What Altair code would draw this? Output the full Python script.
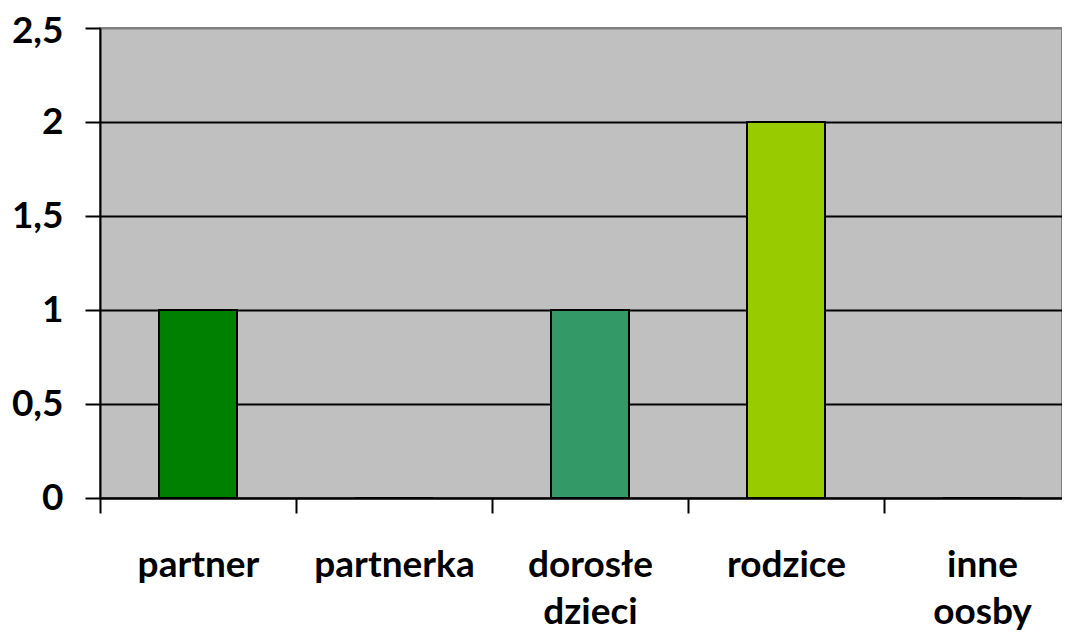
import altair as alt
import pandas as pd

categories = ["partner", "partnerka", "dorosłe dzieci", "rodzice", "inne oosby"]
values = [1, 0, 1, 2, 0]
colors = ["#008000", "#008000", "#339966", "#99CC00", "#99CC00"]
y_ticks = [0, 0.5, 1, 1.5, 2, 2.5]

df = pd.DataFrame({"kat": categories, "val": values})

FONT = "Lato"

chart = alt.Chart(df).mark_bar(
    size=78, stroke="black", strokeWidth=2
).encode(
    x=alt.X(
        "kat:N",
        sort=categories,
        scale=alt.Scale(paddingInner=0, paddingOuter=0, range=[0, 980]),
        axis=alt.Axis(
            title=None,
            labelAngle=0,
            labelFont=FONT,
            labelFontWeight="bold",
            labelFontSize=37,
            labelColor="black",
            labelExpr="split(datum.label, ' ')",
            labelLineHeight=47,
            labelPadding=34,
            labelBaseline="top",
            tickBand="extent",
            tickSize=15,
            tickWidth=2,
            tickColor="black",
            domainColor="black",
            domainWidth=2,
            grid=False,
        ),
    ),
    y=alt.Y(
        "val:Q",
        scale=alt.Scale(domain=[0, 2.5], nice=False),
        axis=alt.Axis(
            title=None,
            values=y_ticks,
            labelExpr="replace(format(datum.value, ''), '.', ',')",
            labelFont=FONT,
            labelFontWeight="bold",
            labelFontSize=37,
            labelColor="black",
            labelPadding=22,
            labelOffset={"condition": {"test": "datum.value >= 2.5", "value": 3}, "value": 0},
            tickSize=15,
            tickWidth=2,
            tickColor="black",
            domainColor="black",
            domainWidth=2,
            grid=True,
            gridColor={"condition": {"test": "datum.value >= 2.5", "value": "#808080"}, "value": "black"},
            gridWidth=2,
        ),
    ),
    color=alt.Color(
        "kat:N",
        scale=alt.Scale(domain=categories, range=colors),
        legend=None,
    ),
).properties(
    width=962,
    height=470,
    autosize=alt.AutoSizeParams(type="none"),
    padding={"left": 92, "top": 20, "right": 0, "bottom": 134},
).configure_view(
    fill="#C0C0C0",
    stroke="#808080",
    strokeWidth=2,
)

chart.save("out.html", embed_options={"renderer": "svg", "actions": False})
